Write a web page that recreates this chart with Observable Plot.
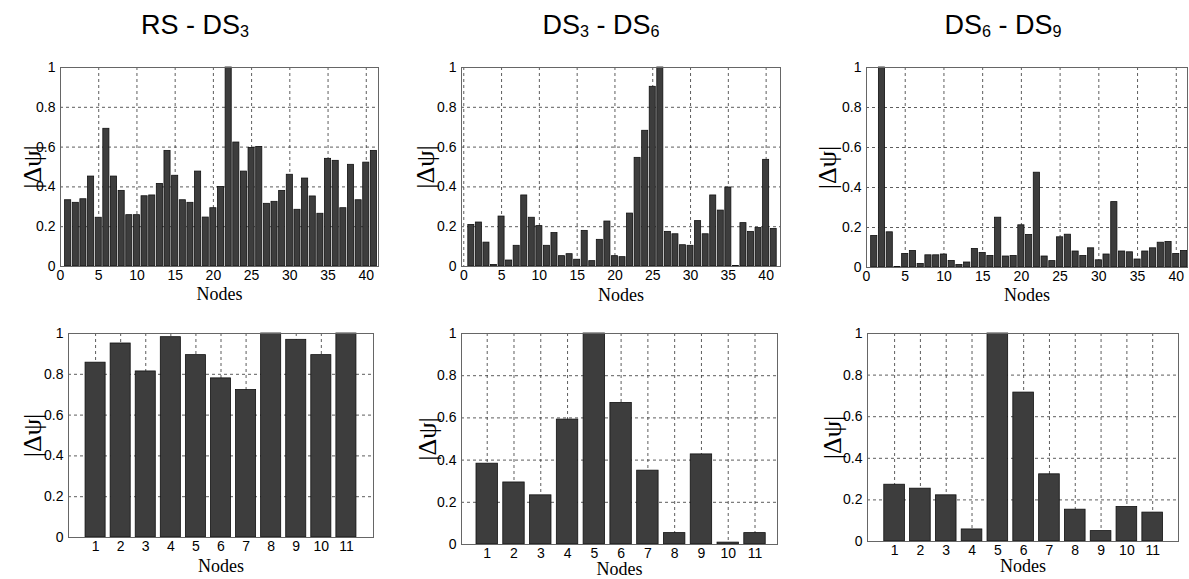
<!DOCTYPE html>
<html><head><meta charset="utf-8">
<script src="https://cdn.jsdelivr.net/npm/d3@7"></script>
<script src="https://cdn.jsdelivr.net/npm/@observablehq/plot@0.6"></script>
<style>
body{margin:0;background:#fff;}
#root{position:relative;width:1189px;height:579px;overflow:hidden;background:#fff;}
.title{position:absolute;top:9px;height:32px;line-height:32px;font-family:"Liberation Sans",Arial,sans-serif;font-size:27px;color:#000;transform:translateX(-50%);white-space:nowrap;}
.title sub{font-size:0.6em;vertical-align:-0.2em;line-height:0;}
.panel{position:absolute;}
</style></head><body><div id="root"></div>
<script>
// ---- data ----
const titles = ["RS - DS<sub>3</sub>", "DS<sub>3</sub> - DS<sub>6</sub>", "DS<sub>6</sub> - DS<sub>9</sub>"];
const nodes41 = [1,2,3,4,5,6,7,8,9,10,11,12,13,14,15,16,17,18,19,20,21,22,23,24,25,26,27,28,29,30,31,32,33,34,35,36,37,38,39,40,41];
const nodes11 = [1,2,3,4,5,6,7,8,9,10,11];
const xTicks41 = [0,5,10,15,20,25,30,35,40];
const xTicks11 = [1,2,3,4,5,6,7,8,9,10,11];
const yTicks = [0,0.2,0.4,0.6,0.8,1];

const rsDs3_41 = [0.333,0.32,0.338,0.452,0.245,0.692,0.452,0.38,0.258,0.258,0.353,0.357,0.415,0.581,0.456,0.333,0.32,0.477,0.246,0.293,0.40,1.0,0.623,0.477,0.596,0.601,0.315,0.325,0.38,0.461,0.285,0.442,0.352,0.265,0.541,0.531,0.293,0.511,0.333,0.522,0.581];
const ds3Ds6_41 = [0.209,0.221,0.12,0.008,0.251,0.03,0.104,0.357,0.245,0.203,0.104,0.168,0.052,0.062,0.034,0.179,0.027,0.134,0.226,0.052,0.047,0.266,0.546,0.682,0.903,1.0,0.174,0.162,0.107,0.104,0.228,0.162,0.357,0.281,0.397,0.003,0.218,0.174,0.193,0.536,0.189];
const ds6Ds9_41 = [0.158,1.0,0.176,0.003,0.068,0.083,0.018,0.061,0.061,0.065,0.033,0.013,0.025,0.093,0.073,0.058,0.249,0.055,0.058,0.211,0.163,0.474,0.055,0.032,0.151,0.164,0.08,0.058,0.096,0.036,0.065,0.327,0.08,0.076,0.04,0.08,0.096,0.124,0.128,0.068,0.083];
const rsDs3_11 = [0.857,0.951,0.814,0.982,0.894,0.78,0.723,1.0,0.969,0.894,1.0];
const ds3Ds6_11 = [0.383,0.294,0.233,0.592,1.0,0.671,0.35,0.054,0.427,0.009,0.054];
const ds6Ds9_11 = [0.273,0.254,0.222,0.058,1.0,0.716,0.323,0.153,0.05,0.166,0.139];

const SANS = '"Liberation Sans", Arial, sans-serif';
const SERIF = '"Liberation Serif", "Times New Roman", serif';

const root = document.getElementById("root");
const titleX = [195, 601, 1003];
titles.forEach((t, i) => {
  const d = document.createElement("div");
  d.className = "title"; d.innerHTML = t; d.style.left = titleX[i] + "px";
  root.appendChild(d);
});

function panel({values, nodes, xDomain, xTicks, L, R, T, B, ylabDx, nodesDy}) {
  const mL = 60, mR = 12, mT = 12, mB = 48;
  const data = nodes.map((n, i) => ({node: n, v: values[i]}));
  const gx = xTicks.filter(t => t > xDomain[0] + 0.05 && t < xDomain[1] - 0.05);
  const gy = yTicks.filter(t => t > 0 && t < 1);
  const p = Plot.plot({
    width: R - L + mL + mR, height: B - T + mT + mB,
    marginLeft: mL, marginRight: mR, marginTop: mT, marginBottom: mB,
    style: {fontFamily: SANS, fontSize: "14px", background: "transparent", color: "#000"},
    x: {domain: xDomain},
    y: {domain: [0, 1]},
    marks: [
      Plot.ruleX(gx, {stroke: "#333", strokeDasharray: "3,3", strokeWidth: 0.8}),
      Plot.ruleY(gy, {stroke: "#333", strokeDasharray: "3,3", strokeWidth: 0.8}),
      Plot.rect(data, {x1: d => d.node - 0.4, x2: d => d.node + 0.4, y1: 0, y2: "v", fill: "#3d3d3d", stroke: "#111", strokeWidth: 0.8}),
      Plot.frame({stroke: "#666"}),
      Plot.axisX(xTicks, {tickSize: 0, tickPadding: 4, label: null, fontSize: 14, tickFormat: d => String(d)}),
      Plot.axisY(yTicks, {tickSize: 0, tickPadding: 5, label: null, fontSize: 14, tickFormat: d => String(d)}),
      Plot.text(["Nodes"], {frameAnchor: "bottom", lineAnchor: "middle", textAnchor: "middle", dy: nodesDy, fontFamily: SERIF, fontSize: 18}),
      Plot.text(["|Δψ|"], {frameAnchor: "left", lineAnchor: "middle", textAnchor: "middle", dx: -ylabDx, rotate: -90, fontFamily: SERIF, fontSize: 26})
    ]
  });
  p.classList.add("panel");
  p.style.left = (L - mL) + "px";
  p.style.top = (T - mT) + "px";
  root.appendChild(p);
}

panel({values: rsDs3_41, nodes: nodes41, xDomain: [0, 41.6], xTicks: xTicks41, L: 60, R: 378, T: 67, B: 266, ylabDx: 28, nodesDy: 28});
panel({values: ds3Ds6_41, nodes: nodes41, xDomain: [-0.3, 41.9], xTicks: xTicks41, L: 461, R: 780, T: 67, B: 266, ylabDx: 36, nodesDy: 29});
panel({values: ds6Ds9_41, nodes: nodes41, xDomain: [0, 41.45], xTicks: xTicks41, L: 866, R: 1187, T: 67, B: 267, ylabDx: 39, nodesDy: 28});
panel({values: rsDs3_11, nodes: nodes11, xDomain: [-0.08, 12.08], xTicks: xTicks11, L: 68, R: 373, T: 333, B: 537, ylabDx: 36, nodesDy: 29});
panel({values: ds3Ds6_11, nodes: nodes11, xDomain: [0.04, 11.84], xTicks: xTicks11, L: 461, R: 777, T: 333, B: 544, ylabDx: 34, nodesDy: 25});
panel({values: ds6Ds9_11, nodes: nodes11, xDomain: [-0.05, 12], xTicks: xTicks11, L: 867, R: 1178, T: 333, B: 541, ylabDx: 35, nodesDy: 25});
</script>
</body></html>
